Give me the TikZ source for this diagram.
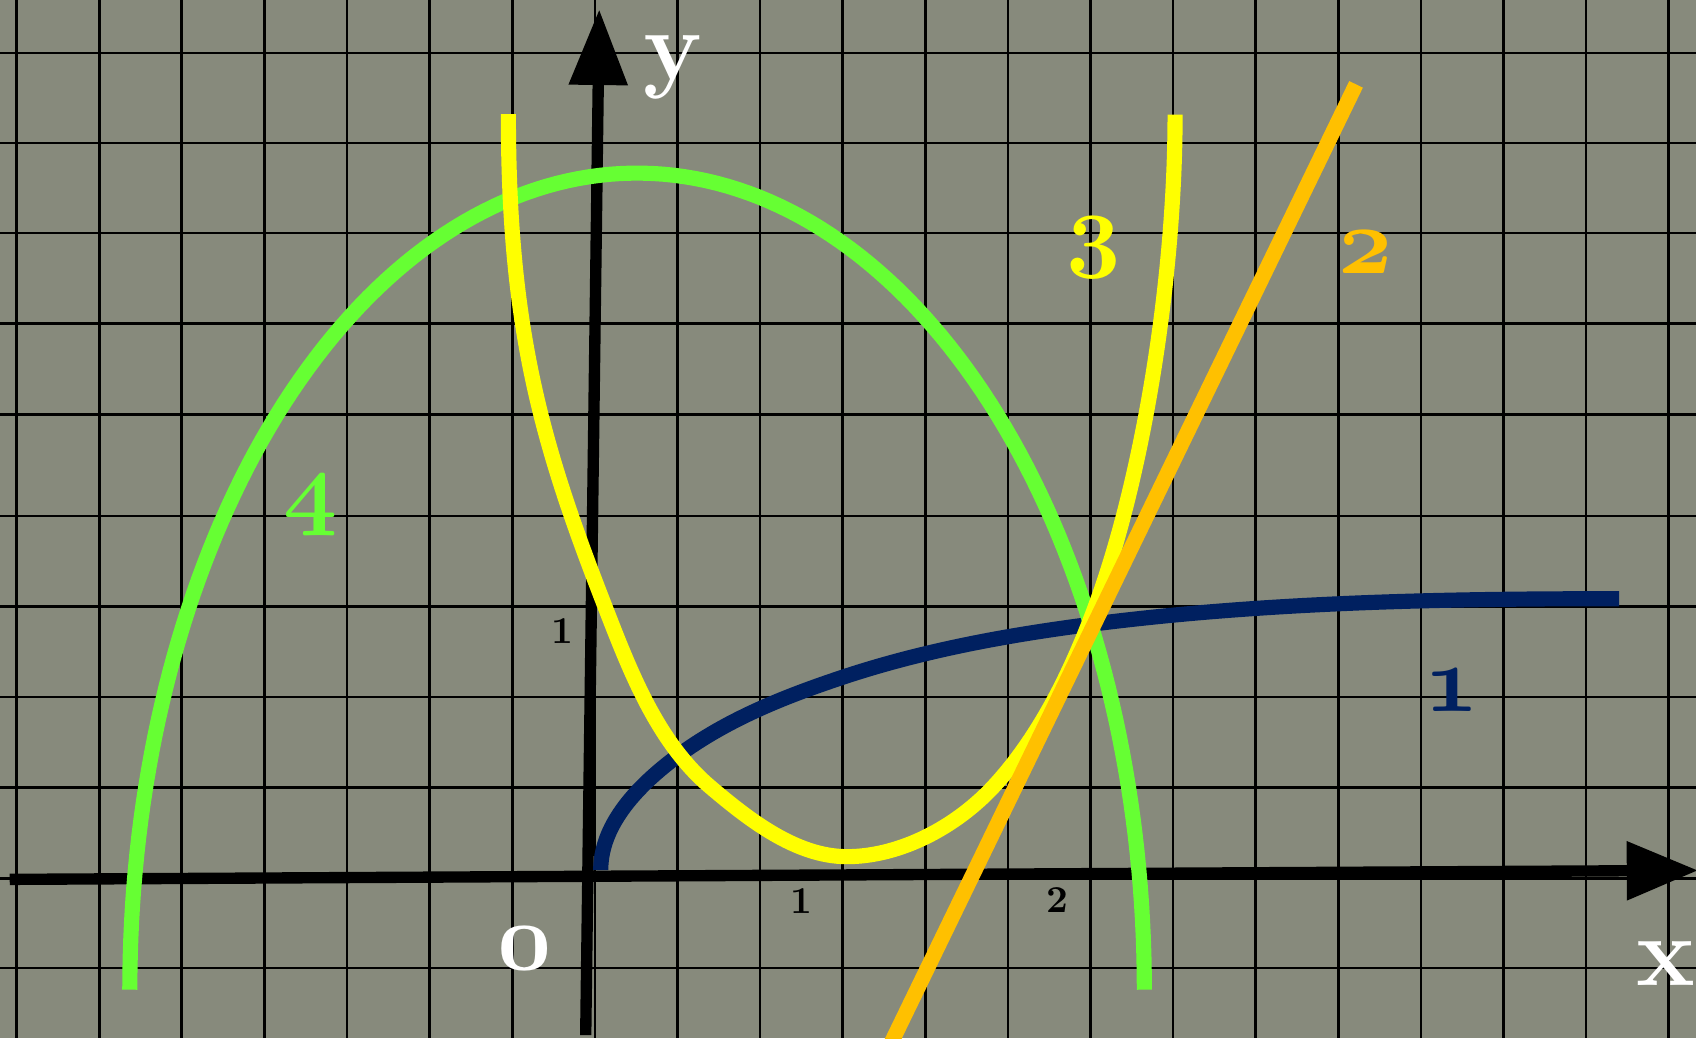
\documentclass[tikz,border=0pt]{standalone}
\usetikzlibrary{arrows.meta}
\definecolor{bg}{HTML}{878A7C}
\definecolor{cyellow}{HTML}{FFFF00}
\definecolor{cgreen}{HTML}{66FF33}
\definecolor{corange}{HTML}{FFC000}
\definecolor{cnavy}{HTML}{002060}
\newcommand\osn[1]{{\usefont{OML}{cmm}{b}{it}#1}}
\tikzset{
  gridline/.style={black, line width=0.7pt},
  axisline/.style={black, line width=1.05mm},
  curveline/.style={line width=1.4mm},
  biglabel/.style={inner sep=0pt, font=\fontsize{26}{30}\selectfont\bfseries},
  ticklabel/.style={inner sep=0pt, text=black, font=\fontsize{10}{12}\selectfont\bfseries},
}
\begin{document}
\begin{tikzpicture}[x=0.1mm,y=-0.1mm]
\useasboundingbox (0,0) rectangle (1568,960);
\fill[bg] (0,0) rectangle (1568,960);
\begin{scope}
\clip (0,0) rectangle (1568,960);
% grid
\foreach \gx in {15.4,91.8,168.1,244.5,320.9,397.3,473.6,550.0,626.4,702.7,779.1,855.5,931.8,1008.2,1084.6,1161.0,1237.3,1313.7,1390.1,1466.4,1542.8}
  \draw[gridline] (\gx,0) -- (\gx,960);
\foreach \gy in {49,132.2,215.4,299,383,477,561,644.5,728,812,895}
  \draw[gridline] (0,\gy) -- (1568,\gy);
% axes
\coordinate (xs) at (9,813);
\coordinate (xe) at (1570,804.7);
\coordinate (ys) at (541.5,957);
\coordinate (ye) at (554,8.6);
\draw[axisline,-{Triangle[length=6.6mm,width=5.2mm]}] (xs) -- (xe);
\draw[axisline,-{Triangle[length=7mm,width=5.2mm]}] (ys) -- (ye);
% curve 1 (navy)
\draw[curveline,cnavy] (555.4,804.4)
  .. controls (555.4,769.5) and (578.8,734.5) .. (625.6,699.6)
  .. controls (671.3,665.5) and (724.7,644.2) .. (778.8,626.2)
  .. controls (850,602.5) and (924.3,588.4) .. (998.6,578.5)
  .. controls (1163.1,556.6) and (1331,553.5) .. (1497,553.5);
% curve 4 (green)
\draw[curveline,cgreen] plot[domain=180:0,samples=150] ({589+469*cos(\x)},{915-755*sin(\x)});
% curve 3 (yellow)
\draw[curveline,cyellow] (470,105.5)
  .. controls (470,305.5) and (500.9,411) .. (559.4,561)
  .. controls (582.6,620.6) and (607.6,685.9) .. (656.4,727.3)
  .. controls (692.2,757.7) and (736,792) .. (783,792)
  .. controls (833,792) and (884.4,763.9) .. (918.4,727.3)
  .. controls (961.3,681.2) and (990.5,620.6) .. (1012.4,561.5)
  .. controls (1057.5,439.6) and (1086.4,255.9) .. (1086.4,105.9);
% curve 2 (orange)
\coordinate (ob) at (818.7,975);
\coordinate (ot) at (1253.7,78);
\draw[curveline,corange] (ob) -- (ot);
\end{scope}
% labels
\node[biglabel,text=white] (ylab) at (622,62.5) {y};
\node[biglabel,text=white] (xlab) at (1540,890.5) {x};
\node[biglabel,text=white] (olab) at (485,876.5) {\osn{0}};
\node[ticklabel] (t1y) at (520,583.5) {1};
\node[ticklabel] (t1x) at (740.5,833) {1};
\node[ticklabel] (t2x) at (978,832) {2};
\node[biglabel,text=cnavy] (l1) at (1342,638.5) {\osn{1}};
\node[biglabel,text=corange] (l2) at (1263,233.5) {\osn{2}};
\node[biglabel,text=cyellow] (l3) at (1011,229) {\osn{3}};
\node[biglabel,text=cgreen] (l4) at (287.5,467.5) {\osn{4}};
\end{tikzpicture}
\end{document}
